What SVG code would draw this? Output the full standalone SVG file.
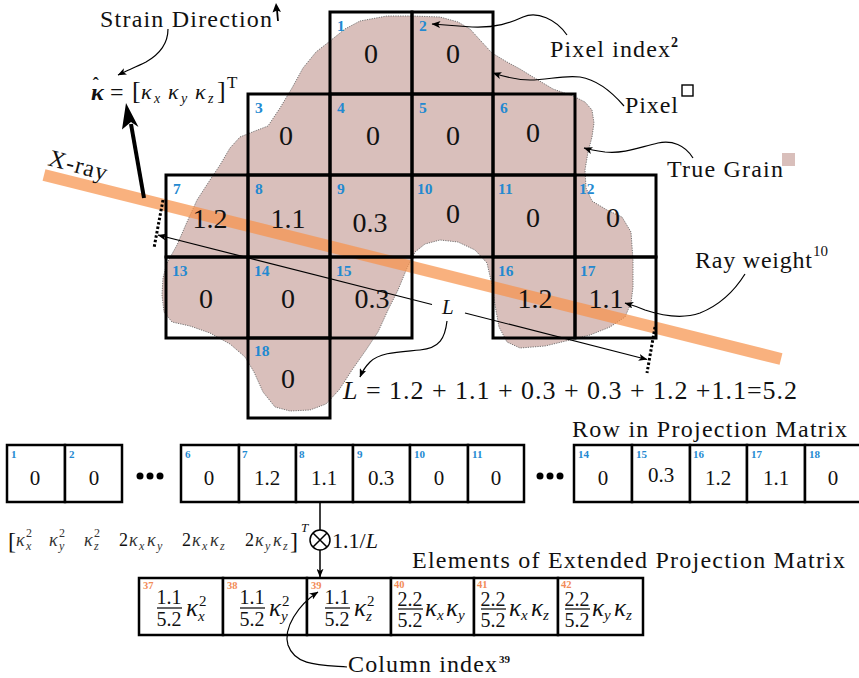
<svg xmlns="http://www.w3.org/2000/svg" width="859" height="678" viewBox="0 0 859 678">
<style>
.s{font-family:"Times New Roman","Liberation Serif",serif;fill:#111}
.i{font-style:italic}
.cell{fill:none;stroke:#000;stroke-width:3}
.bx{fill:#fff;stroke:#000;stroke-width:2.5}
.pid{font-weight:bold;fill:#2389d1;font-size:15.5px}
.val{font-size:28px;text-anchor:middle}
.rid{font-weight:bold;fill:#2389d1;font-size:11px}
.rv{font-size:21px;text-anchor:middle}
.oid{font-weight:bold;fill:#f28b58;font-size:10.5px}
.lbl{font-size:24px}
.conn{fill:none;stroke:#000;stroke-width:1.2}
.num{font-size:20px;text-anchor:middle}
.bar{stroke:#000;stroke-width:1.2}
.k{font-size:25px;font-style:italic}
.ks{font-size:15px;font-style:italic}
.sp{font-size:15px}
.vk{font-size:18px;font-style:italic;fill:#333}
.vs{font-size:12px;fill:#333}
.vsi{font-size:12px;font-style:italic;fill:#333}
.dot{fill:#000}
</style>
<defs>
<marker id="ar" viewBox="0 0 10 8" refX="9.5" refY="4" markerWidth="9" markerHeight="7" orient="auto-start-reverse" markerUnits="userSpaceOnUse"><path d="M0,0 L10,4 L0,8 L2.5,4 z" fill="#000"/></marker>
</defs>

<g id="grain">
<path d="M330,41 L345,29 L360,21 L387,16 L412,16 L440,17 L458,22 L470,29 L480,40 L492,53 L507,62 L520,69 L533,77 L553,89 L573,96 L585,102 L592,110 L594,123 L592,137 L588,152 L585,170 L586,188 L592,201 L607,210 L622,217 L631,232 L633,260 L633,287 L631,303 L625,317 L610,327 L590,335 L570,340 L545,346 L520,348 L507,342 L499,327 L495,305 L492,285 L487,263 L475,250 L458,242 L440,240 L425,244 L415,252 L407,268 L398,290 L388,310 L378,332 L366,350 L352,370 L339,390 L326,404 L310,410 L290,411 L275,407 L263,392 L254,372 L245,357 L230,344 L210,333 L190,326 L172,322 L164,312 L162,295 L163,278 L167,263 L177,245 L187,222 L197,200 L210,180 L220,165 L230,148 L240,137 L255,131 L268,126 L280,108 L292,88 L303,68 L316,52 Z" fill="#d9bfbb" stroke="#666" stroke-width="0.9" stroke-dasharray="1.2 1.2" stroke-linejoin="round"/>
</g>

<g id="xray">
<line x1="44" y1="175" x2="781" y2="359" stroke="#f7934c" stroke-opacity="0.72" stroke-width="12"/>
<text class="s lbl" x="47" y="165" transform="rotate(15 47 165)" textLength="60">X-ray</text>
</g>

<g id="px1"><rect class="cell" x="330" y="12" width="82" height="82"/><text class="s pid" x="337" y="31">1</text><text class="s val" x="371" y="63">0</text></g>
<g id="px2"><rect class="cell" x="412" y="12" width="81" height="82"/><text class="s pid" x="419" y="31">2</text><text class="s val" x="453" y="63">0</text></g>
<g id="px3"><rect class="cell" x="248" y="94" width="82" height="81"/><text class="s pid" x="255" y="113">3</text><text class="s val" x="286" y="145">0</text></g>
<g id="px4"><rect class="cell" x="330" y="94" width="82" height="81"/><text class="s pid" x="337" y="113">4</text><text class="s val" x="373" y="145">0</text></g>
<g id="px5"><rect class="cell" x="412" y="94" width="81" height="81"/><text class="s pid" x="419" y="113">5</text><text class="s val" x="453" y="145">0</text></g>
<g id="px6"><rect class="cell" x="493" y="94" width="82" height="81"/><text class="s pid" x="500" y="113">6</text><text class="s val" x="533" y="142">0</text></g>
<g id="px7"><rect class="cell" x="166" y="175" width="82" height="82"/><text class="s pid" x="173" y="194">7</text><text class="s val" x="210" y="228">1.2</text></g>
<g id="px8"><rect class="cell" x="248" y="175" width="82" height="82"/><text class="s pid" x="255" y="194">8</text><text class="s val" x="288" y="228">1.1</text></g>
<g id="px9"><rect class="cell" x="330" y="175" width="82" height="82"/><text class="s pid" x="337" y="194">9</text><text class="s val" x="370" y="232">0.3</text></g>
<g id="px10"><rect class="cell" x="412" y="175" width="81" height="82"/><text class="s pid" x="417" y="194">10</text><text class="s val" x="453" y="223">0</text></g>
<g id="px11"><rect class="cell" x="493" y="175" width="82" height="82"/><text class="s pid" x="498" y="194">11</text><text class="s val" x="533" y="227">0</text></g>
<g id="px12"><rect class="cell" x="575" y="175" width="81" height="82"/><text class="s pid" x="579" y="194">12</text><text class="s val" x="613" y="227">0</text></g>
<g id="px13"><rect class="cell" x="166" y="257" width="82" height="81"/><text class="s pid" x="172" y="276">13</text><text class="s val" x="206" y="308">0</text></g>
<g id="px14"><rect class="cell" x="248" y="257" width="82" height="81"/><text class="s pid" x="254" y="276">14</text><text class="s val" x="288" y="308">0</text></g>
<g id="px15"><rect class="cell" x="330" y="257" width="82" height="81"/><text class="s pid" x="336" y="276">15</text><text class="s val" x="372" y="308">0.3</text></g>
<g id="px16"><rect class="cell" x="493" y="257" width="82" height="81"/><text class="s pid" x="498" y="276">16</text><text class="s val" x="535" y="308">1.2</text></g>
<g id="px17"><rect class="cell" x="575" y="257" width="81" height="81"/><text class="s pid" x="580" y="276">17</text><text class="s val" x="606" y="308">1.1</text></g>
<g id="px18"><rect class="cell" x="248" y="338" width="82" height="80"/><text class="s pid" x="254" y="356">18</text><text class="s val" x="288" y="388">0</text></g>

<g id="lbl-strain">
<text class="s lbl" x="100" y="27" textLength="172">Strain Direction</text>
</g>
<g id="lbl-kappa">
<text class="s" x="91" y="100" font-size="24" font-weight="bold" font-style="italic">κ<tspan dx="-11" dy="-10" font-size="18" font-style="normal">ˆ</tspan></text>
<text class="s" x="110" y="100" font-size="24">=</text>
<text class="s" x="132" y="99" font-size="26">[</text>
<text class="s i" x="141" y="99" font-size="22">κ</text><text class="s i" x="154" y="103" font-size="14">x</text>
<text class="s i" x="168" y="99" font-size="22">κ</text><text class="s i" x="181" y="103" font-size="14">y</text>
<text class="s i" x="195" y="99" font-size="22">κ</text><text class="s i" x="208" y="103" font-size="14">z</text>
<text class="s" x="217" y="99" font-size="26">]</text>
<text class="s" x="227" y="88" font-size="17">T</text>
</g>
<g id="lbl-pixindex"><text class="s lbl" x="550" y="57" textLength="120">Pixel index</text><text class="s" x="671" y="47" font-size="14" font-weight="bold" fill="#2389d1">2</text></g>
<g id="lbl-pixel"><text class="s lbl" x="625" y="113" textLength="53">Pixel</text><rect x="682" y="85" width="11" height="11" fill="none" stroke="#000" stroke-width="1.4"/></g>
<g id="lbl-grain"><text class="s lbl" x="667" y="177" textLength="116">True Grain</text><rect x="782" y="153" width="13" height="13" fill="#d9bfbb"/></g>
<g id="lbl-ray"><text class="s lbl" x="695" y="268" textLength="117">Ray weight</text><text class="s" x="813" y="256" font-size="15">10</text></g>
<g id="lbl-L"><text class="s i" x="442" y="314" font-size="21">L</text></g>
<g id="lbl-eq"><text class="s" x="343" y="399" font-size="26" textLength="454"><tspan font-style="italic">L</tspan> = 1.2 + 1.1 + 0.3 + 0.3 + 1.2 +1.1=5.2</text></g>
<g id="lbl-row"><text class="s lbl" x="572" y="437" textLength="275">Row in Projection Matrix</text></g>
<g id="lbl-ext"><text class="s lbl" x="412" y="568" textLength="433">Elements of Extended Projection Matrix</text></g>
<g id="lbl-col"><text class="s lbl" x="348" y="672" textLength="149">Column index</text><text class="s" x="499" y="663" font-size="11" font-weight="bold" fill="#f28b58">39</text></g>

<g id="row-1"><rect class="bx" x="7" y="445" width="58" height="57"/><text class="s rid" x="11" y="458">1</text><text class="s rv" x="35" y="485">0</text></g>
<g id="row-2"><rect class="bx" x="65" y="445" width="57" height="57"/><text class="s rid" x="69" y="458">2</text><text class="s rv" x="94" y="485">0</text></g>
<g id="dots-1"><circle class="dot" cx="140" cy="476" r="3.5"/><circle class="dot" cx="150" cy="476" r="3.5"/><circle class="dot" cx="160" cy="476" r="3.5"/></g>
<g id="row-6"><rect class="bx" x="181" y="445" width="58" height="57"/><text class="s rid" x="185" y="458">6</text><text class="s rv" x="209" y="485">0</text></g>
<g id="row-7"><rect class="bx" x="239" y="445" width="57" height="57"/><text class="s rid" x="242" y="458">7</text><text class="s rv" x="267" y="485">1.2</text></g>
<g id="row-8"><rect class="bx" x="296" y="445" width="57" height="57"/><text class="s rid" x="299" y="458">8</text><text class="s rv" x="324" y="485">1.1</text></g>
<g id="row-9"><rect class="bx" x="353" y="445" width="57" height="57"/><text class="s rid" x="357" y="458">9</text><text class="s rv" x="381" y="485">0.3</text></g>
<g id="row-10"><rect class="bx" x="410" y="445" width="58" height="57"/><text class="s rid" x="414" y="458">10</text><text class="s rv" x="439" y="485">0</text></g>
<g id="row-11"><rect class="bx" x="468" y="445" width="56" height="57"/><text class="s rid" x="472" y="458">11</text><text class="s rv" x="496" y="485">0</text></g>
<g id="dots-2"><circle class="dot" cx="540" cy="476" r="3.5"/><circle class="dot" cx="550" cy="476" r="3.5"/><circle class="dot" cx="560" cy="476" r="3.5"/></g>
<g id="row-14"><rect class="bx" x="574" y="445" width="58" height="57"/><text class="s rid" x="578" y="458">14</text><text class="s rv" x="603" y="485">0</text></g>
<g id="row-15"><rect class="bx" x="632" y="445" width="58" height="57"/><text class="s rid" x="636" y="458">15</text><text class="s rv" x="661" y="482">0.3</text></g>
<g id="row-16"><rect class="bx" x="690" y="445" width="57" height="57"/><text class="s rid" x="693" y="458">16</text><text class="s rv" x="718" y="485">1.2</text></g>
<g id="row-17"><rect class="bx" x="747" y="445" width="58" height="57"/><text class="s rid" x="751" y="458">17</text><text class="s rv" x="776" y="485">1.1</text></g>
<g id="row-18"><rect class="bx" x="805" y="445" width="58" height="57"/><text class="s rid" x="809" y="458">18</text><text class="s rv" x="833" y="485">0</text></g>

<g id="vec">
<text class="s" x="8" y="549" font-size="24" fill="#333">[</text>
<text class="s vk" x="16" y="546">κ</text><text class="s vs" x="26" y="537">2</text><text class="s vsi" x="26" y="550">x</text>
<text class="s vk" x="49" y="546">κ</text><text class="s vs" x="59" y="537">2</text><text class="s vsi" x="59" y="550">y</text>
<text class="s vk" x="84" y="546">κ</text><text class="s vs" x="94" y="537">2</text><text class="s vsi" x="94" y="550">z</text>
<text class="s" x="119" y="546" font-size="18" fill="#333">2</text><text class="s vk" x="129" y="546">κ</text><text class="s vsi" x="139" y="550">x</text><text class="s vk" x="147" y="546">κ</text><text class="s vsi" x="157" y="550">y</text>
<text class="s" x="182" y="546" font-size="18" fill="#333">2</text><text class="s vk" x="192" y="546">κ</text><text class="s vsi" x="202" y="550">x</text><text class="s vk" x="210" y="546">κ</text><text class="s vsi" x="220" y="550">z</text>
<text class="s" x="245" y="546" font-size="18" fill="#333">2</text><text class="s vk" x="255" y="546">κ</text><text class="s vsi" x="265" y="550">y</text><text class="s vk" x="273" y="546">κ</text><text class="s vsi" x="283" y="550">z</text>
<text class="s" x="290" y="549" font-size="24" fill="#333">]</text>
<text class="s i" x="301" y="532" font-size="13" fill="#333">T</text>
</g>
<g id="otimes">
<circle cx="320" cy="540" r="10" fill="#fff" stroke="#000" stroke-width="1.5"/>
<path d="M313,533 L327,547 M327,533 L313,547" stroke="#000" stroke-width="1.5"/>
<text class="s" x="332" y="548" font-size="22">1.1/<tspan font-style="italic">L</tspan></text>
</g>

<g id="ext-37"><rect class="bx" x="139" y="578" width="84" height="57"/><text class="s oid" x="143" y="589">37</text><text class="s num" x="169" y="604">1.1</text><line class="bar" x1="157" y1="608" x2="182" y2="608"/><text class="s num" x="169" y="626">5.2</text><text class="s k" x="186" y="616">κ</text><text class="s sp" x="199" y="606">2</text><text class="s ks" x="198" y="621">x</text></g>
<g id="ext-38"><rect class="bx" x="223" y="578" width="84" height="57"/><text class="s oid" x="227" y="589">38</text><text class="s num" x="252" y="604">1.1</text><line class="bar" x1="240" y1="608" x2="265" y2="608"/><text class="s num" x="252" y="626">5.2</text><text class="s k" x="269" y="616">κ</text><text class="s sp" x="282" y="606">2</text><text class="s ks" x="281" y="621">y</text></g>
<g id="ext-39"><rect class="bx" x="307" y="578" width="84" height="57"/><text class="s oid" x="311" y="589">39</text><text class="s num" x="337" y="604">1.1</text><line class="bar" x1="325" y1="608" x2="350" y2="608"/><text class="s num" x="337" y="626">5.2</text><text class="s k" x="354" y="616">κ</text><text class="s sp" x="367" y="606">2</text><text class="s ks" x="366" y="621">z</text></g>
<g id="ext-40"><rect class="bx" x="391" y="578" width="83" height="57"/><text class="s oid" x="394" y="588">40</text><text class="s num" x="410" y="606">2.2</text><line class="bar" x1="398" y1="609" x2="423" y2="609"/><text class="s num" x="410" y="627">5.2</text><text class="s k" x="425" y="616">κ</text><text class="s ks" x="437" y="620">x</text><text class="s k" x="446" y="616">κ</text><text class="s ks" x="458" y="620">y</text></g>
<g id="ext-41"><rect class="bx" x="474" y="578" width="84" height="57"/><text class="s oid" x="477" y="588">41</text><text class="s num" x="493" y="606">2.2</text><line class="bar" x1="481" y1="609" x2="506" y2="609"/><text class="s num" x="493" y="627">5.2</text><text class="s k" x="509" y="616">κ</text><text class="s ks" x="521" y="620">x</text><text class="s k" x="531" y="616">κ</text><text class="s ks" x="543" y="620">z</text></g>
<g id="ext-42"><rect class="bx" x="558" y="578" width="85" height="57"/><text class="s oid" x="561" y="588">42</text><text class="s num" x="577" y="606">2.2</text><line class="bar" x1="565" y1="609" x2="590" y2="609"/><text class="s num" x="577" y="627">5.2</text><text class="s k" x="592" y="616">κ</text><text class="s ks" x="604" y="620">y</text><text class="s k" x="614" y="616">κ</text><text class="s ks" x="626" y="620">z</text></g>

<g id="connectors">
<line x1="144" y1="198" x2="131" y2="124" stroke="#000" stroke-width="4"/>
<path d="M126,103 L138.5,127 L131,122 L122,129.5 Z" fill="#000"/>
<line x1="278" y1="21" x2="277" y2="10" stroke="#000" stroke-width="1.8"/>
<path d="M276,3 L272.5,12.5 L277,10.5 L281,12 Z" fill="#000"/>
<path class="conn" d="M168,29 C168,44 160,54 146,62 C136,67 126,71 118,75" marker-end="url(#ar)"/>
<path class="conn" d="M567,35 C556,19 537,11 523,17 C510,23 496,28 472,27 C458,26 446,25 432,24" marker-end="url(#ar)"/>
<path class="conn" d="M624,106 C612,92 598,80 580,77 C562,75 548,80 530,80 C518,80 505,77 493,73" marker-end="url(#ar)"/>
<path class="conn" d="M693,158 C685,145 672,140 658,143 C640,147 625,154 605,152 C597,151 590,150 584,148" marker-end="url(#ar)"/>
<path class="conn" d="M745,274 C735,290 720,305 700,313 C680,320 660,315 645,310 C638,307 632,305 625,303" marker-end="url(#ar)"/>
<path class="conn" d="M447,321 C445,338 440,348 420,350 C400,352 380,352 370,362 C365,367 362,372 360,377" marker-end="url(#ar)"/>
<path class="conn" d="M347,667 C320,665 295,666 288,645 C283,628 298,605 318,592" marker-end="url(#ar)"/>
<line class="conn" x1="158" y1="235" x2="432" y2="304.5" marker-start="url(#ar)"/>
<line class="conn" x1="465" y1="313" x2="647" y2="359.5" marker-end="url(#ar)"/>
<line x1="163" y1="200" x2="154" y2="248" stroke="#000" stroke-width="3" stroke-dasharray="2.5 2"/>
<line x1="655" y1="327" x2="647" y2="373" stroke="#000" stroke-width="3" stroke-dasharray="2.5 2"/>
<line x1="320" y1="502" x2="320" y2="530" stroke="#000" stroke-width="1.5"/>
<line x1="320" y1="550" x2="320" y2="577" stroke="#000" stroke-width="1.5" marker-end="url(#ar)"/>
</g>
</svg>
